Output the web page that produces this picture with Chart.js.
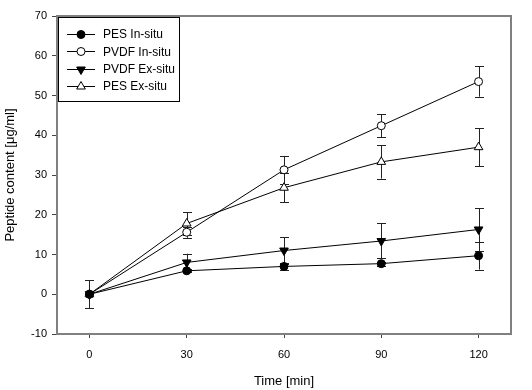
<!DOCTYPE html>
<html lang="en">
<head>
    <meta charset="UTF-8">
    <title>Peptide content</title>
    <style type="text/css">
        html, body { margin: 0; padding: 0; background: #fff; }
        .chartBox { width: 532px; height: 390px; }
    </style>
</head>
<body>
    <div class="chartBox">
        <canvas id="myChart" width="532" height="390"></canvas>
    </div>

    <script src="https://cdn.jsdelivr.net/npm/chart.js"></script>
    <script>
        // time points [min]
        var times = [0, 30, 60, 90, 120];
        var xTicks = [0, 30, 60, 90, 120];

        // mean values [ug/ml]
        var pesIn = [0, 5.9, 7.0, 7.7, 9.7];
        var pvdfIn = [0, 15.6, 31.3, 42.4, 53.5];
        var pvdfEx = [0, 8.0, 11.0, 13.4, 16.3];
        var pesEx = [0, 17.8, 26.8, 33.3, 37.0];

        // error (+/-)
        var pesInErr = [3.5, 0.4, 0.9, 0.5, 3.5];
        var pvdfInErr = [3.5, 1.4, 3.5, 2.9, 3.8];
        var pvdfExErr = [3.5, 2.2, 3.4, 4.4, 5.4];
        var pesExErr = [3.5, 2.8, 3.6, 4.2, 4.8];

        function pts(vals) {
            return times.map(function (t, i) { return { x: t, y: vals[i] }; });
        }

        function ds(label, vals, errs, style, fill, rot) {
            return {
                label: label,
                data: pts(vals),
                errors: errs,
                borderColor: '#000',
                borderWidth: 1,
                pointStyle: style,
                pointRotation: rot || 0,
                pointRadius: style == 'circle' ? 4 : 5,
                pointBorderColor: '#000',
                pointBackgroundColor: fill,
                pointBorderWidth: 1,
                tension: 0
            };
        }

        // error bars under the markers
        var errorBars = {
            id: 'errorBars',
            beforeDatasetsDraw: function (chart) {
                var ctx = chart.ctx, xs = chart.scales.x, ys = chart.scales.y;
                ctx.save();
                ctx.strokeStyle = '#222';
                ctx.lineWidth = 1;
                chart.data.datasets.forEach(function (d) {
                    d.data.forEach(function (p, i) {
                        var e = d.errors[i];
                        var px = Math.round(xs.getPixelForValue(p.x)) + 0.5;
                        var top = ys.getPixelForValue(p.y + e);
                        var bot = ys.getPixelForValue(p.y - e);
                        ctx.beginPath();
                        ctx.moveTo(px, top); ctx.lineTo(px, bot);
                        ctx.moveTo(px - 4.5, Math.round(top) + 0.5); ctx.lineTo(px + 4.5, Math.round(top) + 0.5);
                        ctx.moveTo(px - 4.5, Math.round(bot) + 0.5); ctx.lineTo(px + 4.5, Math.round(bot) + 0.5);
                        ctx.stroke();
                    });
                });
                ctx.restore();
            }
        };

        // gray frame + boxed legend with line samples
        var frameLegend = {
            id: 'frameLegend',
            afterDraw: function (chart) {
                var ctx = chart.ctx, a = chart.chartArea;
                ctx.save();
                ctx.strokeStyle = '#808080';
                ctx.lineWidth = 2;
                ctx.strokeRect(a.left, a.top, a.right - a.left, a.bottom - a.top);

                var bx = a.left + 1, by = a.top + 1;
                ctx.fillStyle = '#fff';
                ctx.fillRect(bx, by, 121, 84);
                ctx.strokeStyle = '#000';
                ctx.lineWidth = 1;
                ctx.strokeRect(bx + 0.5, by + 0.5, 121, 84);

                chart.data.datasets.forEach(function (d, i) {
                    var y = by + 17 + i * 17.3;
                    ctx.beginPath();
                    ctx.strokeStyle = '#000';
                    ctx.lineWidth = 1;
                    ctx.moveTo(bx + 9, Math.round(y) + 0.5);
                    ctx.lineTo(bx + 37, Math.round(y) + 0.5);
                    ctx.stroke();
                    ctx.fillStyle = d.pointBackgroundColor;
                    Chart.helpers.drawPoint(ctx, {
                        pointStyle: d.pointStyle,
                        rotation: d.pointRotation,
                        radius: d.pointRadius,
                        borderWidth: 1
                    }, bx + 23, Math.round(y) + 0.5);
                    ctx.fillStyle = '#000';
                    ctx.font = '12px "Liberation Sans", Arial, sans-serif';
                    ctx.textBaseline = 'middle';
                    ctx.fillText(d.label, bx + 45, y + 1);
                });
                ctx.restore();
            }
        };

        var tickFont = { family: '"Liberation Sans", Arial, sans-serif', size: 11 };
        var titleFont = { family: '"Liberation Sans", Arial, sans-serif', size: 13 };

        var myChart = new Chart(document.getElementById('myChart').getContext('2d'), {
            type: 'line',
            data: {
                datasets: [
                    ds('PES In-situ', pesIn, pesInErr, 'circle', '#000'),
                    ds('PVDF In-situ', pvdfIn, pvdfInErr, 'circle', '#fff'),
                    ds('PVDF Ex-situ', pvdfEx, pvdfExErr, 'triangle', '#000', 180),
                    ds('PES Ex-situ', pesEx, pesExErr, 'triangle', '#fff')
                ]
            },
            options: {
                responsive: false,
                animation: false,
                layout: { padding: { top: 16, right: 21, left: 0, bottom: 0 } },
                scales: {
                    x: {
                        type: 'linear',
                        min: -10,
                        max: 130,
                        afterBuildTicks: function (scale) {
                            scale.ticks = xTicks.map(function (v) { return { value: v }; });
                        },
                        afterFit: function (scale) { scale.height = 56; },
                        border: { display: false },
                        grid: { drawOnChartArea: false, tickLength: 4, color: '#444' },
                        ticks: { color: '#000', font: tickFont, padding: 10 },
                        title: { display: true, text: 'Time [min]', color: '#000', font: titleFont, padding: { top: 4, bottom: 1 } }
                    },
                    y: {
                        min: -10,
                        max: 70,
                        afterFit: function (scale) { scale.width = 57; },
                        border: { display: false },
                        grid: { drawOnChartArea: false, tickLength: 5, color: '#444' },
                        ticks: { stepSize: 10, color: '#000', font: tickFont, padding: 5 },
                        title: { display: true, text: 'Peptide content [μg/ml]', color: '#000', font: titleFont, padding: { top: 3, bottom: 0 } }
                    }
                },
                plugins: {
                    legend: { display: false },
                    tooltip: { enabled: false }
                }
            },
            plugins: [errorBars, frameLegend]
        });
    </script>
</body>
</html>
